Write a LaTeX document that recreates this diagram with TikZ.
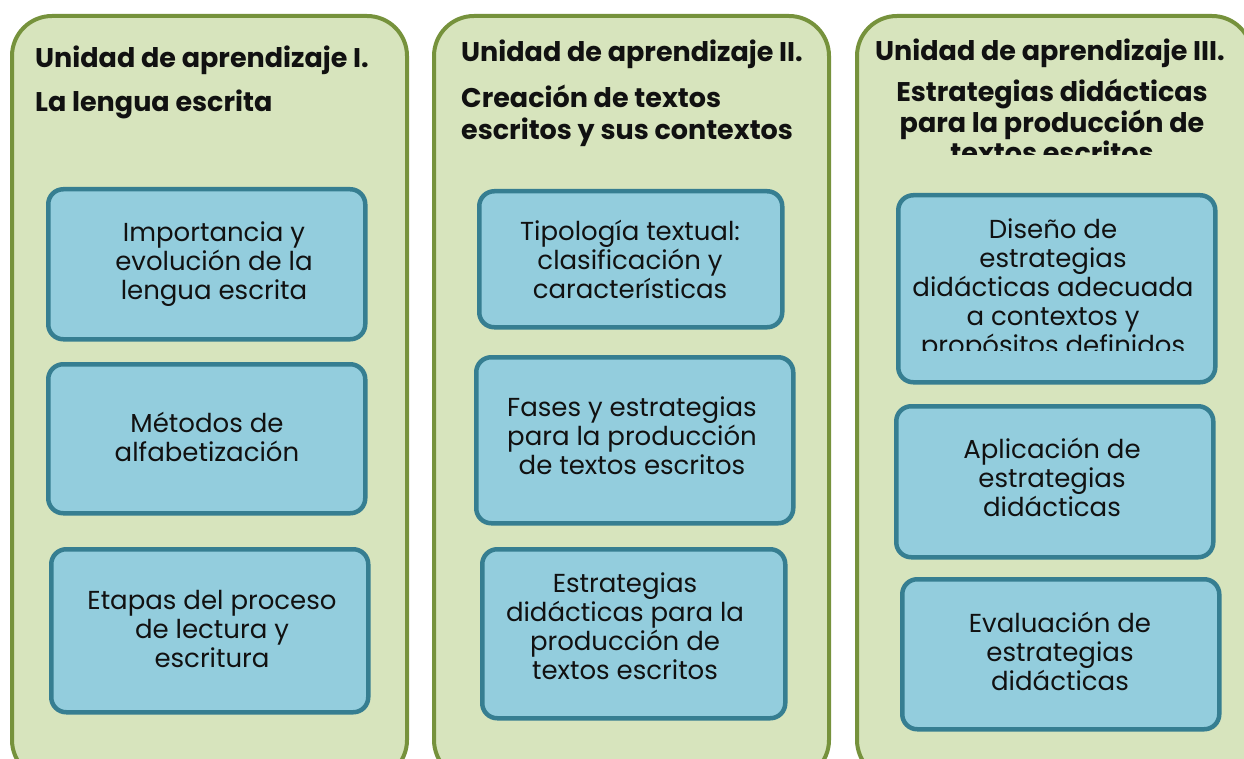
\documentclass[tikz,border=0pt]{standalone}
\usepackage{fontspec}
\setmainfont{Poppins}
\definecolor{panelfill}{HTML}{D7E4BD}
\definecolor{paneldraw}{HTML}{76923C}
\definecolor{boxfill}{HTML}{93CDDD}
\definecolor{boxdraw}{HTML}{367E91}
\definecolor{txt}{HTML}{111111}
\begin{document}
\begin{tikzpicture}[x=1pt,y=-1pt,
  panel/.style={draw=paneldraw,fill=panelfill,line width=4pt,rounded corners=40pt},
  topic/.style={draw=boxdraw,fill=boxfill,line width=4.5pt,rounded corners=15pt,inner sep=0pt},
  ttl/.style={anchor=west,inner sep=0pt,text=txt,font=\fontsize{27}{32}\selectfont\bfseries},
  ttlc/.style={align=center,inner sep=0pt,text=txt,font=\fontsize{27}{28}\selectfont\bfseries},
  lbl/.style={align=center,inner sep=0pt,text=txt,font=\fontsize{26}{29}\selectfont}]
\useasboundingbox (0,0) rectangle (1244,759);
\clip (0,0) rectangle (1244,759);
% panels
\node[panel,minimum width=395pt,minimum height=764pt,anchor=north west] (p1) at (10,14) {};
\node[panel,minimum width=395pt,minimum height=764pt,anchor=north west] (p2) at (432,14) {};
\node[panel,minimum width=395pt,minimum height=764pt,anchor=north west] (p3) at (855,14) {};
% titles
\node[ttl] (t1a) at (35,60) {Unidad de aprendizaje I.};
\node[ttl] (t1b) at (35,104) {La lengua escrita};
\node[ttl] (t2a) at (461,54) {Unidad de aprendizaje II.};
\node[ttl,align=left] (t2b) at (461,116) {Creación de textos\\escritos y sus contextos};
\node[ttl] (t3a) at (875,53) {Unidad de aprendizaje III.};
\begin{scope}
\clip (860,70) rectangle (1240,155);
\node[ttlc] (t3b) at (1052,121) {Estrategias didácticas\\para la producción de\\textos escritos};
\end{scope}
% boxes panel I
\node[topic,minimum width=317pt,minimum height=150pt,anchor=north west] (b11) at (46,187) {};
\node[topic,minimum width=317pt,minimum height=149pt,anchor=north west] (b12) at (46,362) {};
\node[topic,minimum width=317pt,minimum height=163pt,anchor=north west] (b13) at (49,547) {};
\node[lbl] (l11) at (214,264) {Importancia y\\evolución de la\\lengua escrita};
\node[lbl] (l12) at (207,437) {Métodos de\\alfabetización};
\node[lbl] (l13) at (212,629) {Etapas del proceso\\de lectura y\\escritura};
% boxes panel II
\node[topic,minimum width=303pt,minimum height=136pt,anchor=north west] (b21) at (477,189) {};
\node[topic,minimum width=317pt,minimum height=166pt,anchor=north west] (b22) at (474,355) {};
\node[topic,minimum width=303pt,minimum height=169pt,anchor=north west] (b23) at (480,547) {};
\node[lbl] (l21) at (630,259) {Tipología textual:\\clasificación y\\características};
\node[lbl] (l22) at (632,436) {Fases y estrategias\\para la producción\\de textos escritos};
\node[lbl] (l23) at (625,626) {Estrategias\\didácticas para la\\producción de\\textos escritos};
% boxes panel III
\node[topic,minimum width=317pt,minimum height=187pt,anchor=north west] (b31) at (896,193) {};
\node[topic,minimum width=317pt,minimum height=151pt,anchor=north west] (b32) at (894,404) {};
\node[topic,minimum width=317pt,minimum height=150pt,anchor=north west] (b33) at (900,577) {};
\begin{scope}
\clip (900,200) rectangle (1210,350);
\node[lbl] (l31) at (1053,290) {Diseño de\\estrategias\\didácticas adecuada\\a contextos y\\propósitos definidos};
\end{scope}
\node[lbl] (l32) at (1052,477) {Aplicación de\\estrategias\\didácticas};
\node[lbl] (l33) at (1060,651) {Evaluación de\\estrategias\\didácticas};
\end{tikzpicture}
\end{document}
